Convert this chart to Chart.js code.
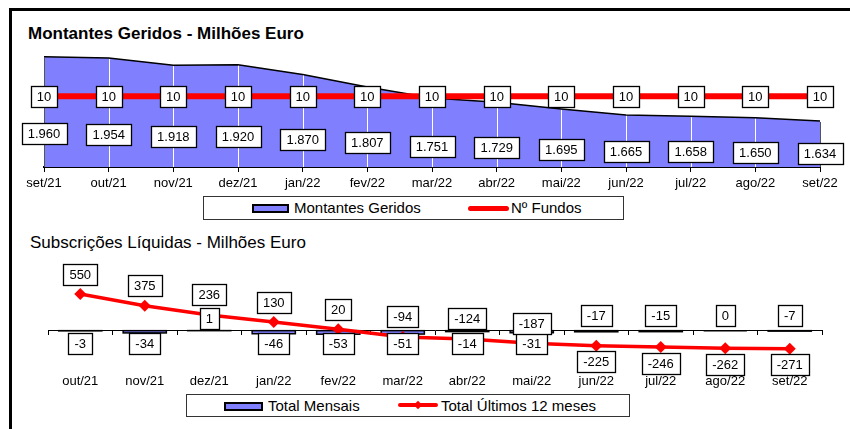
<!DOCTYPE html>
<html lang="pt">
<head>
<meta charset="utf-8">
<title>Montantes Geridos / Subscrições Líquidas</title>
<script src="https://cdn.jsdelivr.net/npm/chart.js@4/dist/chart.umd.min.js"></script>
<style>
    body { margin: 0; width: 850px; height: 429px; overflow: hidden; background: #fff; position: relative; font-family: Arial, "Liberation Sans", sans-serif; }
    #moldura { position: absolute; left: 9px; top: 8px; width: 900px; height: 500px; border-top: 3px solid #000; border-left: 3px solid #000; }
    .titulo { position: absolute; font-size: 17px; line-height: 20px; color: #000; white-space: nowrap; }
    #titulo-topo { left: 28px; top: 24px; font-weight: bold; }
    #titulo-base { left: 30px; top: 233px; }
    canvas { position: absolute; left: 0; }
    #chartMontantes { top: 40px; width: 850px; height: 160px; }
    #chartSubscricoes { top: 250px; width: 850px; height: 150px; }
    .legenda { position: absolute; box-sizing: border-box; border: 1px solid #333; background: #fff; font-size: 15px; }
    .legenda span { position: absolute; white-space: nowrap; }
    #legenda-topo { left: 203px; top: 196px; width: 421px; height: 24px; }
    #legenda-base { left: 186px; top: 394px; width: 444px; height: 23px; }
    .sw-area { box-sizing: border-box; height: 9px; background: #8080FF; border: 2px solid #000; }
    .sw-linha { height: 5px; background: #FF0000; border-radius: 3px; }
    .sw-losango { width: 6px; height: 6px; background: #FF0000; transform: rotate(45deg); }
</style>
</head>
<body>
<div id="moldura"></div>

<div class="titulo" id="titulo-topo">Montantes Geridos - Milhões Euro</div>
<canvas id="chartMontantes" width="850" height="160"></canvas>
<div class="legenda" id="legenda-topo">
    <span class="sw-area" style="left: 48px; top: 7px; width: 37px;"></span>
    <span style="left: 90px; top: 2px; line-height: 18px;">Montantes Geridos</span>
    <span class="sw-linha" style="left: 264px; top: 9px; width: 41px;"></span>
    <span style="left: 307px; top: 2px; line-height: 18px;">Nº Fundos</span>
</div>

<div class="titulo" id="titulo-base">Subscrições Líquidas - Milhões Euro</div>
<canvas id="chartSubscricoes" width="850" height="150"></canvas>
<div class="legenda" id="legenda-base">
    <span class="sw-area" style="left: 37px; top: 7px; width: 39px;"></span>
    <span style="left: 81px; top: 2px; line-height: 18px;">Total Mensais</span>
    <span class="sw-linha" style="left: 211px; top: 8px; width: 40px; height: 4px;"></span>
    <span class="sw-losango" style="left: 228px; top: 7px;"></span>
    <span style="left: 254px; top: 2px; line-height: 18px;">Total Últimos 12 meses</span>
</div>

<script>
// --- 1. DADOS ---

const mesesTopo = ['set/21', 'out/21', 'nov/21', 'dez/21', 'jan/22', 'fev/22', 'mar/22', 'abr/22', 'mai/22', 'jun/22', 'jul/22', 'ago/22', 'set/22'];
const montantesGeridos = [1960, 1954, 1918, 1920, 1870, 1807, 1751, 1729, 1695, 1665, 1658, 1650, 1634];
const numFundos = [10, 10, 10, 10, 10, 10, 10, 10, 10, 10, 10, 10, 10];

const mesesBase = ['out/21', 'nov/21', 'dez/21', 'jan/22', 'fev/22', 'mar/22', 'abr/22', 'mai/22', 'jun/22', 'jul/22', 'ago/22', 'set/22'];
const totalMensais = [-3, -34, 1, -46, -53, -51, -14, -31, -17, -15, 0, -7];
const totalUltimos12 = [550, 375, 236, 130, 20, -94, -124, -187, -225, -246, -262, -271];

// --- 2. AJUDANTES ---

const FONT = 'Arial, "Liberation Sans", sans-serif';
const AZUL = '#8080FF';
const VERMELHO = '#FF0000';

Chart.defaults.font.family = FONT;
Chart.defaults.color = '#000';

// 1960 -> "1.960"
const formatMilhar = (v) => {
    if (Math.abs(v) < 1000) return String(v);
    return Math.trunc(v / 1000) + '.' + String(Math.abs(v) % 1000).padStart(3, '0');
};

const drawLabelBox = (ctx, text, cx, cy) => {
    ctx.save();
    ctx.font = `13px ${FONT}`;
    const w = Math.round(ctx.measureText(text).width + 12);
    const h = 21;
    const x = Math.round(cx - w / 2) + 0.5;
    const y = Math.round(cy - h / 2) + 0.5;
    ctx.fillStyle = '#fff';
    ctx.fillRect(x, y, w, h);
    ctx.lineWidth = 1.3;
    ctx.strokeStyle = '#000';
    ctx.strokeRect(x, y, w, h);
    ctx.fillStyle = '#000';
    ctx.textAlign = 'center';
    ctx.textBaseline = 'middle';
    ctx.fillText(text, cx, y + h / 2 + 0.5);
    ctx.restore();
};

// --- 3. GRÁFICO DE CIMA: MONTANTES GERIDOS ---

const montantesPlugin = {
    id: 'montantesLabels',
    afterDatasetDraw(chart, args) {
        if (args.index !== 0) return;
        const { ctx, chartArea } = chart;
        const pts = args.meta.data;
        ctx.save();
        // linhas verticais brancas por cima da área
        pts.forEach((p, i) => {
            const x = Math.round(p.x) + 0.5;
            ctx.beginPath();
            ctx.moveTo(x, p.y + 1);
            ctx.lineTo(x, chartArea.bottom);
            ctx.strokeStyle = (i === 0 || i === pts.length - 1) ? '#555' : '#fff';
            ctx.lineWidth = 1;
            ctx.stroke();
        });
        ctx.restore();
    },
    afterDatasetsDraw(chart) {
        const { ctx, chartArea } = chart;
        const bottom = chartArea.bottom;
        chart.getDatasetMeta(0).data.forEach((p, i) => {
            const cy = Math.min(p.y + 0.7 * (bottom - p.y), bottom - 11);
            drawLabelBox(ctx, formatMilhar(montantesGeridos[i]), p.x, cy);
        });
        chart.getDatasetMeta(1).data.forEach((p, i) => {
            drawLabelBox(ctx, String(numFundos[i]), p.x, p.y);
        });
    }
};

new Chart(document.getElementById('chartMontantes'), {
    type: 'line',
    data: {
        labels: mesesTopo,
        datasets: [{
            label: 'Montantes Geridos',
            data: montantesGeridos,
            yAxisID: 'y',
            fill: 'start',
            backgroundColor: AZUL,
            borderColor: '#000',
            borderWidth: 1.5,
            pointRadius: 0,
            tension: 0,
            order: 2
        }, {
            label: 'Nº Fundos',
            data: numFundos,
            yAxisID: 'y2',
            fill: false,
            borderColor: VERMELHO,
            borderWidth: 6,
            pointRadius: 0,
            tension: 0,
            order: 1
        }]
    },
    options: {
        responsive: false,
        devicePixelRatio: 1,
        animation: false,
        layout: { padding: { left: 44, right: 30, top: 9, bottom: 3 } },
        plugins: { legend: { display: false }, tooltip: { enabled: false } },
        scales: {
            x: {
                offset: false,
                grid: { display: true, drawOnChartArea: false, drawTicks: true, tickLength: 5, color: '#000' },
                border: { display: true, color: '#000', width: 2 },
                ticks: { font: { size: 13 }, color: '#000', padding: 4, maxRotation: 0, autoSkip: false },
                afterFit: (scale) => { scale.height = 30; }
            },
            y: { display: false, min: 1400, max: 2000 },
            y2: { display: false, min: 4, max: 14 }
        }
    },
    plugins: [montantesPlugin]
});

// --- 4. GRÁFICO DE BAIXO: SUBSCRIÇÕES LÍQUIDAS ---

const subscricoesPlugin = {
    id: 'subscricoesLabels',
    afterDatasetDraw(chart, args) {
        if (args.index !== 0) return;
        const { ctx } = chart;
        ctx.save();
        ctx.strokeStyle = '#000';
        ctx.lineWidth = 1.5;
        args.meta.data.forEach((b) => {
            const top = Math.min(b.y, b.base);
            const h = Math.abs(b.y - b.base);
            ctx.strokeRect(b.x - b.width / 2, top, b.width, h);
        });
        ctx.restore();
    },
    afterDatasetsDraw(chart) {
        const { ctx } = chart;
        const zeroY = chart.scales.y.getPixelForValue(0);
        const barras = chart.getDatasetMeta(0).data;
        const pontos = chart.getDatasetMeta(1).data;
        pontos.forEach((p, i) => {
            const v = totalUltimos12[i];
            const m = totalMensais[i];
            const linhaAcima = v > -200;
            let barY;
            if (linhaAcima) barY = m > 0 ? zeroY - 12 : zeroY + 13;
            else barY = zeroY - 15;
            drawLabelBox(ctx, String(m), barras[i].x, barY);
            drawLabelBox(ctx, String(v), p.x, linhaAcima ? p.y - 20 : p.y + 16);
        });
    }
};

new Chart(document.getElementById('chartSubscricoes'), {
    type: 'bar',
    data: {
        labels: mesesBase,
        datasets: [{
            type: 'bar',
            label: 'Total Mensais',
            data: totalMensais,
            backgroundColor: AZUL,
            borderWidth: 0,
            barPercentage: 0.67,
            categoryPercentage: 1,
            order: 2
        }, {
            type: 'line',
            label: 'Total Últimos 12 meses',
            data: totalUltimos12,
            borderColor: VERMELHO,
            backgroundColor: VERMELHO,
            borderWidth: 3.5,
            pointStyle: 'rectRot',
            pointRadius: 6,
            pointBorderWidth: 0,
            tension: 0,
            order: 1
        }]
    },
    options: {
        responsive: false,
        devicePixelRatio: 1,
        animation: false,
        layout: { padding: { left: 48, right: 28, top: 14, bottom: 12 } },
        plugins: { legend: { display: false }, tooltip: { enabled: false } },
        scales: {
            x: {
                offset: true,
                grid: { display: false },
                border: { display: false },
                ticks: { font: { size: 13 }, color: '#000', padding: 2, maxRotation: 0, autoSkip: false },
                afterFit: (scale) => { scale.height = 24; }
            },
            x2: {
                type: 'category',
                position: { y: 0 },
                offset: true,
                grid: { display: true, offset: true, drawOnChartArea: false, drawTicks: true, tickLength: 4, color: '#000' },
                border: { display: true, color: '#000', width: 1 },
                ticks: { display: false }
            },
            y: { display: false, min: -500, max: 1000 }
        }
    },
    plugins: [subscricoesPlugin]
});
</script>
</body>
</html>
